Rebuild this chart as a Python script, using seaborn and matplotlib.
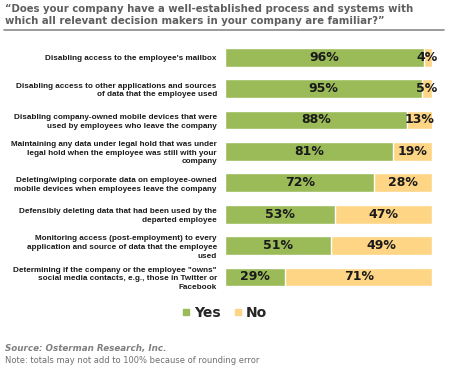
import matplotlib
matplotlib.use("Agg")
import matplotlib.pyplot as plt
from matplotlib.lines import Line2D
import seaborn as sns
import pandas as pd

# survey items (top to bottom)
items = [
    "Disabling access to the employee's mailbox",
    "Disabling access to other applications and sources\nof data that the employee used",
    "Disabling company-owned mobile devices that were\nused by employees who leave the company",
    "Maintaining any data under legal hold that was under\nlegal hold when the employee was still with your\ncompany",
    "Deleting/wiping corporate data on employee-owned\nmobile devices when employees leave the company",
    "Defensibly deleting data that had been used by the\ndeparted employee",
    "Monitoring access (post-employment) to every\napplication and source of data that the employee\nused",
    "Determining if the company or the employee \"owns\"\nsocial media contacts, e.g., those in Twitter or\nFacebook",
]
yes_pct = [96, 95, 88, 81, 72, 53, 51, 29]
no_pct = [4, 5, 13, 19, 28, 47, 49, 71]

GREEN = "#9bbb59"
YELLOW = "#fdd585"
GREY = "#5f5f5f"

df = pd.DataFrame({"item": items, "yes": yes_pct, "no": no_pct})
df["total"] = df["yes"] + df["no"]

sns.set_theme(style="white")
plt.rcParams["font.family"] = ["DejaVu Sans"]

fig = plt.figure(figsize=(4.54, 3.70), dpi=100)
ax = fig.add_axes([0.496, 0.209, 0.456, 0.679])

# yellow bar as full stack, green on top
sns.barplot(data=df, x="total", y="item", color=YELLOW, saturation=1,
            width=0.6, ax=ax, orient="h")
sns.barplot(data=df, x="yes", y="item", color=GREEN, saturation=1,
            width=0.6, ax=ax, orient="h")
ax.set_xlim(0, 100)
ax.set_ylim(7.5, -0.5)

for i, (y, n) in enumerate(zip(yes_pct, no_pct)):
    ax.text(y / 2, i, f"{y}%", ha="center", va="center", fontsize=9,
            fontweight="bold", color="#1a1a1a")
    nx = y + (100 - y) / 2
    if n < 10:
        nx = 100 - 2.5
    ax.text(nx, i, f"{n}%", ha="center", va="center", fontsize=9,
            fontweight="bold", color="#1a1a1a")

ax.set_xlabel("")
ax.set_ylabel("")
ax.set_xticks([])
ax.tick_params(axis="y", length=0, pad=6)
for lab in ax.get_yticklabels():
    lab.set_fontsize(5.9)
    lab.set_fontfamily("Liberation Sans")
    lab.set_fontweight("bold")
    lab.set_color("#1a1a1a")
    lab.set_multialignment("right")
    lab.set_linespacing(1.35)
sns.despine(ax=ax, left=True, bottom=True)

# title + rule
fig.text(0.012, 0.99, "\u201cDoes your company have a well-established process and systems with\n"
         "which all relevant decision makers in your company are familiar?\u201d",
         ha="left", va="top", fontsize=7.3, fontweight="bold", color=GREY,
         linespacing=1.25)
fig.add_artist(Line2D([0.008, 0.977], [0.918, 0.918], color="#8a8a8a", lw=1.2))

# legend
handles = [Line2D([], [], marker="s", ls="", color=GREEN, markersize=5),
           Line2D([], [], marker="s", ls="", color=YELLOW, markersize=5)]
fig.legend(handles, ["Yes", "No"], loc="center", bbox_to_anchor=(0.49, 0.155),
           ncol=2, frameon=False, handletextpad=0.0, columnspacing=0.6,
           handlelength=1.2, prop={"weight": "bold", "size": 10})

fig.text(0.012, 0.057, "Source: Osterman Research, Inc.", fontsize=6.3,
         fontweight="bold", style="italic", color="#7f7f7f", va="center")
fig.text(0.012, 0.025, "Note: totals may not add to 100% because of rounding error",
         fontsize=6.0, color="#6f6f6f", va="center")

fig.savefig("out.png", dpi=100, facecolor="white")
